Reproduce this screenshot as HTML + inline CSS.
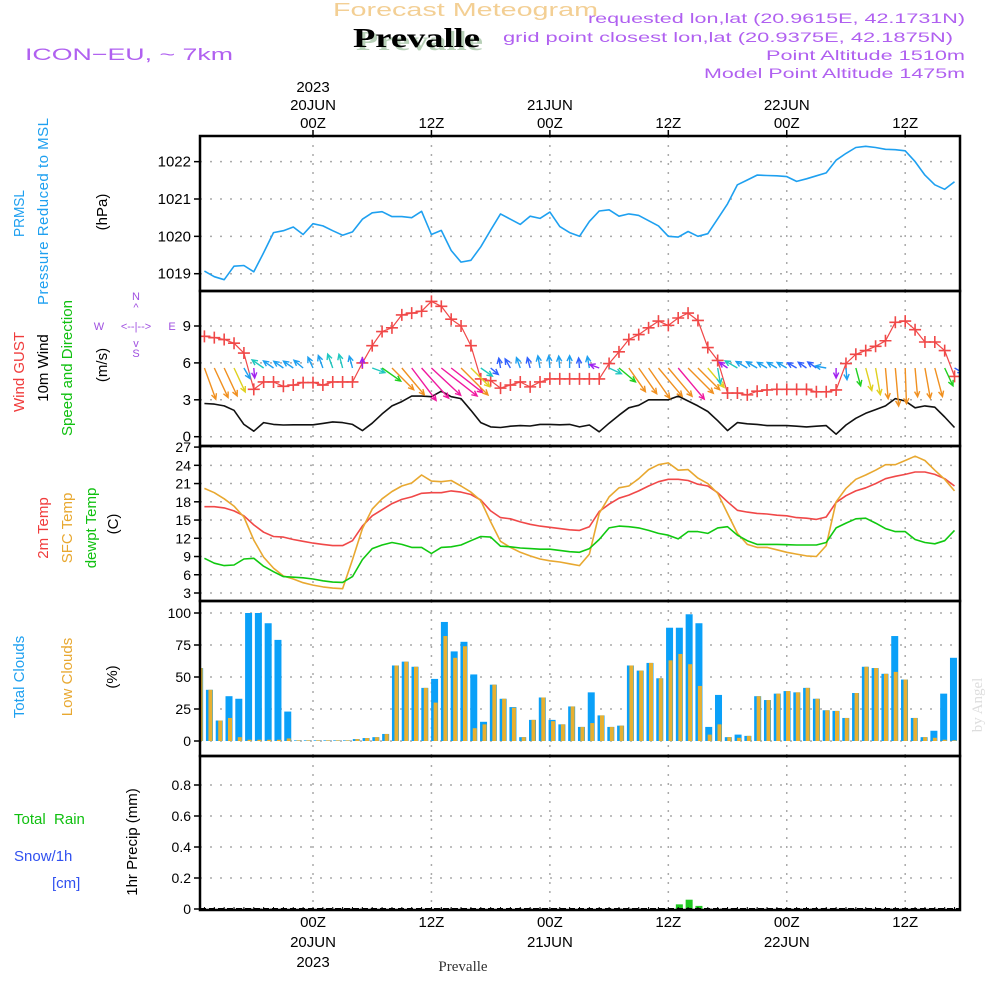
<!DOCTYPE html>
<html><head><meta charset="utf-8"><style>
html,body{margin:0;padding:0;background:#fff;}
svg{display:block;font-family:"Liberation Sans",sans-serif;}
</style></head><body>
<svg id="chart" width="1000" height="1000" viewBox="0 0 1000 1000" xmlns="http://www.w3.org/2000/svg">
<rect width="1000" height="1000" fill="#fff"/>
<defs>
<clipPath id="plotclip"><rect x="200" y="136" width="760" height="774"/></clipPath>
</defs>
<text x="333" y="16" font-size="18" fill="#f3cf94" textLength="265" lengthAdjust="spacingAndGlyphs">Forecast Meteogram</text>
<text x="356" y="50" font-size="27" font-weight="bold" fill="#b8d0b8" textLength="127" lengthAdjust="spacingAndGlyphs" font-family="Liberation Serif, serif">Prevalle</text>
<text x="353" y="47" font-size="27" font-weight="bold" fill="#000" textLength="127" lengthAdjust="spacingAndGlyphs" font-family="Liberation Serif, serif">Prevalle</text>
<text x="25" y="60" font-size="17" fill="#b060f0" textLength="208" lengthAdjust="spacingAndGlyphs">ICON−EU, ~ 7km</text>
<g font-size="14" fill="#b060f0">
<text x="588" y="23" textLength="377" lengthAdjust="spacingAndGlyphs">requested lon,lat (20.9615E, 42.1731N)</text>
<text x="503" y="42" textLength="450" lengthAdjust="spacingAndGlyphs">grid point closest lon,lat (20.9375E, 42.1875N)</text>
<text x="766" y="60" textLength="199" lengthAdjust="spacingAndGlyphs">Point Altitude 1510m</text>
<text x="704" y="78" textLength="261" lengthAdjust="spacingAndGlyphs">Model Point Altitude 1475m</text>
</g>
<g font-size="15">
<text transform="translate(24,237) rotate(-90)" fill="#1ea0f0" textLength="47" lengthAdjust="spacingAndGlyphs">PRMSL</text>
<text transform="translate(48,305) rotate(-90)" fill="#1ea0f0" textLength="187" lengthAdjust="spacing">Pressure Reduced to MSL</text>
<text transform="translate(107,212) rotate(-90)" text-anchor="middle" fill="#000">(hPa)</text>
<text transform="translate(24,372) rotate(-90)" text-anchor="middle" fill="#f03c3c">Wind GUST</text>
<text transform="translate(48,368) rotate(-90)" text-anchor="middle" fill="#000">10m Wind</text>
<text transform="translate(72,368) rotate(-90)" text-anchor="middle" fill="#10c010">Speed and Direction</text>
<text transform="translate(107,365) rotate(-90)" text-anchor="middle" fill="#000">(m/s)</text>
<text transform="translate(48,528) rotate(-90)" text-anchor="middle" fill="#f03c3c">2m Temp</text>
<text transform="translate(72,528) rotate(-90)" text-anchor="middle" fill="#e8a830">SFC Temp</text>
<text transform="translate(96,528) rotate(-90)" text-anchor="middle" fill="#10c010">dewpt Temp</text>
<text transform="translate(118,524) rotate(-90)" text-anchor="middle" fill="#000">(C)</text>
<text transform="translate(24,677) rotate(-90)" text-anchor="middle" fill="#1ea0f0">Total Clouds</text>
<text transform="translate(72,677) rotate(-90)" text-anchor="middle" fill="#e8a830">Low Clouds</text>
<text transform="translate(117,677) rotate(-90)" text-anchor="middle" fill="#000">(%)</text>
<text x="14" y="824" fill="#10c010" xml:space="preserve">Total  Rain</text>
<text x="14" y="861" fill="#3050f0">Snow/1h</text>
<text x="52" y="888" fill="#3050f0">[cm]</text>
<text transform="translate(137,842) rotate(-90)" text-anchor="middle" fill="#000">1hr Precip (mm)</text>
</g>
<g font-size="11" fill="#a050e0" text-anchor="middle">
<text x="136" y="300">N</text><text x="136" y="311">^</text>
<text x="99" y="330">W</text><text x="136" y="330">&lt;--|--&gt;</text><text x="172" y="330">E</text>
<text x="136" y="347">v</text><text x="136" y="357">S</text>
</g>
<text transform="translate(982,705) rotate(-90)" text-anchor="middle" font-size="15" fill="#ddd" font-family="Liberation Serif, serif">by Angel</text>
<text x="463" y="971" font-size="15" text-anchor="middle" font-family="Liberation Serif, serif" fill="#333">Prevalle</text>
<g id="grid"></g>
<g id="data" clip-path="url(#plotclip)"></g>
<g id="axes"></g>
</svg>
<script>
const hours = []; for (let h = -11; h <= 65; h++) hours.push(h);
const pressure = [1019.07,1018.92,1018.84,1019.2,1019.22,1019.05,1019.56,1020.1,1020.15,1020.25,1020.05,
1020.34,1020.28,1020.15,1020.03,1020.12,1020.46,1020.63,1020.66,1020.53,1020.53,1020.5,1020.67,
1020.05,1020.16,1019.62,1019.31,1019.36,1019.72,1020.17,1020.6,1020.46,1020.32,1020.54,1020.48,
1020.65,1020.26,1020.1,1020.0,1020.4,1020.68,1020.71,1020.54,1020.6,1020.56,1020.42,1020.28,
1020.0,1019.98,1020.13,1020.0,1020.07,1020.47,1020.87,1021.38,1021.51,1021.64,1021.63,1021.62,
1021.6,1021.47,1021.54,1021.62,1021.7,1022.04,1022.22,1022.38,1022.41,1022.38,1022.33,1022.32,
1022.29,1022.0,1021.64,1021.38,1021.26,1021.46];
const gust = [8.16,8.05,7.9,7.6,6.8,3.85,4.45,4.45,4.1,4.2,4.4,
4.4,4.2,4.45,4.45,4.45,6.0,7.4,8.55,8.85,9.9,10.05,10.2,
11.0,10.6,9.55,9.0,7.4,4.7,4.55,3.95,4.2,4.45,4.05,4.45,
4.7,4.7,4.7,4.7,4.7,4.7,5.95,6.9,7.9,8.3,8.85,9.4,
9.05,9.65,10.05,9.45,7.25,6.2,3.55,3.55,3.4,3.7,3.8,3.85,
3.85,3.85,3.85,3.65,3.65,3.8,5.95,6.7,7.0,7.35,7.8,9.3,
9.4,8.7,7.7,7.7,7.0,4.9];
const windSpeed = [2.7,2.65,2.5,2.15,1.0,0.45,1.15,1.0,0.95,0.97,0.97,
0.97,1.08,1.2,1.15,1.0,0.5,1.1,1.85,2.5,2.85,3.3,3.3,
3.25,3.7,3.25,3.1,2.15,1.15,0.8,0.75,0.85,0.9,0.87,1.0,
1.0,0.97,1.0,0.8,0.95,0.4,1.1,1.75,2.35,2.55,3.0,3.0,
3.0,3.3,2.9,2.5,2.05,1.3,0.5,1.15,1.05,1.0,0.9,0.9,
0.9,0.85,0.8,0.85,0.9,0.2,0.95,1.5,1.9,2.2,2.5,3.1,
2.9,2.35,2.5,2.4,1.6,0.75];
const windToward = [160,155,155,155,150,175,305,305,305,305,310,
335,340,340,345,345,0,110,125,135,140,143,138,
133,128,128,135,135,125,130,350,330,340,345,350,
355,355,0,355,350,290,115,130,145,145,145,140,
140,140,135,135,140,170,305,300,300,300,300,300,
300,300,305,305,280,180,175,165,165,170,175,175,
178,175,170,165,155,120];
const t2m = [17.2,17.2,17.0,16.5,15.7,14.2,13.0,12.3,12.2,11.8,11.5,
11.2,11.0,10.8,10.8,11.6,14.0,15.7,16.7,17.7,18.4,18.8,19.4,
19.5,19.5,19.8,19.6,19.2,18.3,16.5,15.4,15.2,14.7,14.3,14.0,
13.8,13.6,13.4,13.3,13.9,16.4,17.6,18.6,19.1,19.8,20.6,21.3,
21.7,21.7,21.5,20.9,20.6,19.5,18.0,16.6,16.3,16.1,16.0,15.8,
15.7,15.4,15.3,15.1,15.5,17.9,19.0,19.8,20.3,21.0,21.8,22.2,
22.5,22.9,22.9,22.5,21.8,20.6];
const sfcTemp = [20.2,19.5,18.5,17.3,15.5,11.7,8.9,7.1,5.8,5.3,4.7,
4.3,4.0,3.8,3.7,8.5,13.6,16.8,18.5,19.7,20.6,21.1,22.4,
21.4,21.3,21.5,20.6,19.6,18.2,14.7,11.5,10.5,9.7,9.1,8.6,
8.3,8.1,7.8,7.5,9.4,16.1,18.8,20.3,20.6,21.8,23.3,24.1,
24.4,23.2,23.3,21.9,21.0,19.4,16.1,12.8,11.0,10.5,10.5,10.1,
9.7,9.4,9.1,9.0,10.8,18.0,20.2,21.7,22.4,23.2,24.1,24.1,
24.8,25.5,24.8,23.2,21.7,19.8];
const dewpt = [8.7,7.9,7.5,7.6,8.6,8.7,7.4,6.5,5.7,5.6,5.5,
5.3,5.0,4.8,4.75,5.7,8.5,10.3,10.9,11.3,11.0,10.5,10.5,
9.5,10.5,10.6,10.9,11.6,12.3,12.2,10.7,10.6,10.4,10.3,10.2,
10.2,10.0,9.8,9.7,10.3,11.8,13.7,14.0,13.9,13.7,13.3,12.8,
12.5,11.9,13.1,13.1,12.8,13.7,13.9,12.5,11.6,11.0,11.0,11.0,
10.95,10.9,10.9,10.9,11.3,13.7,14.5,15.2,15.3,14.5,13.6,13.1,
13.1,11.8,11.3,11.1,11.6,13.3];
const cloudHours = []; for (let h = -12; h <= 65; h++) cloudHours.push(h);
const totalClouds = [57,40,16,35,33,100,100,92,79,23,0.5,0.5,
0.5,0.5,0.5,0.5,1.5,2.3,3,5.5,59,62,58,41.5,
48.5,93,70,77.5,52,15,44,33,26.5,3,16.5,34,
16.5,13,27,11,38,20,11,12,59,55,61,49,
88.5,88.5,99,92,11,36,3,5,4,35,32,37,
39,38,41.5,33,24,23.5,18,37.5,58,57,52.5,82,
48,18,3,8,37,65];
const lowClouds = [57,40,16,18,3,1,1,1,1,2,0.5,0.5,
0.5,0.5,0.5,0.5,1.5,2.3,3,5.5,59,62,58,41.5,
30,82,65,74,10,13,44,33,26,3,16.5,34,
15.5,13,27,11,14,20,11,12,59,55,61,49,
63,68,60,43,5,13,3,2.5,4,35,32,37,
39,38,41.5,33,24,23.5,18,37.5,58,57,52.5,54,
48,18,3,2.5,1,0.5];
const precipHours = [37,38,39];
const precipValues = [0.03,0.06,0.02];
const pressureTicks = [1019,1020,1021,1022];
const windTicks = [0,3,6,9];
const tempTicks = [3,6,9,12,15,18,21,24,27];
const cloudTicks = [0,25,50,75,100];
const precipTicks = [0,0.2,0.4,0.6,0.8];
const timeTicks = [0,12,24,36,48,60];
const timeLabels = ['00Z','12Z','00Z','12Z','00Z','12Z'];
const dateLabels = ['20JUN','','21JUN','','22JUN',''];

const X0 = 200, X1 = 960;
const x = h => 313 + h * 9.87;
const xBar = h => x(h) + 5 - (h + 11) * 0.08;
const yP = v => 273.7 - (v - 1019) * 37.35;
const yW = v => 436.7 - v * 12.3;
const yT = v => 593 - (v - 3) * 6.08;
const yC = v => 741 - v * 1.28;
const yR = v => 909 - v * 155;
const NS = 'http://www.w3.org/2000/svg';
const grid = document.getElementById('grid');
const dataG = document.getElementById('data');
const axes = document.getElementById('axes');
function mk(tag, attrs, parent) {
  const e = document.createElementNS(NS, tag);
  for (const k in attrs) e.setAttribute(k, attrs[k]);
  parent.appendChild(e);
  return e;
}
function txt(s, attrs, parent) { const e = mk('text', attrs, parent); e.textContent = s; return e; }

const panels = [
  {name:'pressure', top:136, bot:291, ticks:pressureTicks, y:yP, fmt:v=>String(v), fs:15},
  {name:'wind', top:291, bot:446, ticks:windTicks, y:yW, fmt:v=>String(v), fs:15},
  {name:'temp', top:446, bot:601, ticks:tempTicks, y:yT, fmt:v=>String(v), fs:14},
  {name:'cloud', top:601, bot:756, ticks:cloudTicks, y:yC, fmt:v=>String(v), fs:14},
  {name:'precip', top:756, bot:910, ticks:precipTicks, y:yR, fmt:v=>v===0?'0':v.toFixed(1), fs:14}
];
panels.forEach(p => {
  p.ticks.forEach(v => {
    const yy = p.y(v);
    const g = mk('line', {x1:X0, x2:X1, y1:yy, y2:yy, stroke:'#aaa', 'stroke-width':1.5, 'stroke-dasharray':'2,8'}, grid);
    
    
    const t = mk('line', {x1:X0-6, x2:X0, y1:yy, y2:yy, stroke:'#000', 'stroke-width':1.5}, axes);
    
    
    const l = txt(p.fmt(v), {x:X0-9, y:yy+5, 'font-size':p.fs, 'text-anchor':'end', fill:'#000'}, axes);
    
    
  });
  timeTicks.forEach(h => {
    const vl = mk('line', {x1:x(h), x2:x(h), y1:p.top, y2:p.bot, stroke:'#aaa', 'stroke-width':1.5, 'stroke-dasharray':'2,7'}, grid);
    
    
  });
  const fr = mk('rect', {x:X0, y:p.top, width:X1-X0, height:p.bot-p.top, fill:'none', stroke:'#000', 'stroke-width':2.5}, axes);
  
  
});
for (let h = -11; h <= 65; h++) {
  const bt = mk('line', {x1:x(h), x2:x(h), y1:907, y2:911, stroke:'#000', 'stroke-width':1}, axes);
  
  
}
timeTicks.forEach((h, i) => {
  const tt = mk('line', {x1:x(h), x2:x(h), y1:130, y2:136, stroke:'#000', 'stroke-width':1.5}, axes);
  
  
  const tl = txt(timeLabels[i], {x:x(h), y:128, 'font-size':15, 'text-anchor':'middle', fill:'#000'}, axes);
  
  
  const bl = txt(timeLabels[i], {x:x(h), y:927, 'font-size':15, 'text-anchor':'middle', fill:'#000'}, axes);
  
  
  if (dateLabels[i]) {
    const td = txt(dateLabels[i], {x:x(h), y:110, 'font-size':15, 'text-anchor':'middle', fill:'#000'}, axes);
    
    
    const bd = txt(dateLabels[i], {x:x(h), y:947, 'font-size':15, 'text-anchor':'middle', fill:'#000'}, axes);
    
    
  }
});
const ty = txt('2023', {x:x(0), y:92, 'font-size':15, 'text-anchor':'middle', fill:'#000'}, axes);


const by = txt('2023', {x:x(0), y:967, 'font-size':15, 'text-anchor':'middle', fill:'#000'}, axes);



function line(vals, yf, color, name, w) {
  const pts = hours.map((h, i) => x(h).toFixed(1) + ',' + yf(vals[i]).toFixed(1)).join(' ');
  const e = mk('polyline', {points:pts, fill:'none', stroke:color, 'stroke-width':w||1.6, 'stroke-linejoin':'round'}, dataG);
  
  
}
cloudHours.forEach((h, i) => {
  const cx = xBar(h);
  const b = mk('rect', {x:cx-3.5, y:yC(totalClouds[i]), width:7, height:741-yC(totalClouds[i]), fill:'#0aa0f8'}, dataG);
  
  
  const o = mk('rect', {x:cx-1, y:yC(lowClouds[i]), width:4, height:741-yC(lowClouds[i]), fill:'#e8b030'}, dataG);
  
  
});
precipHours.forEach((h, i) => {
  const cx = xBar(h);
  const b = mk('rect', {x:cx-3.5, y:yR(precipValues[i]), width:7, height:909-yR(precipValues[i]), fill:'#20c820'}, dataG);
  
  
});
const zl = mk('line', {x1:X0, x2:X1, y1:909, y2:909, stroke:'#000', 'stroke-width':2, 'stroke-dasharray':'6,3'}, dataG);



line(pressure, yP, '#1ea0f0', 'pressure-line', 1.6);
line(t2m, yT, '#f04848', 'temp-2m-line', 1.6);
line(sfcTemp, yT, '#e8a830', 'temp-sfc-line', 1.6);
line(dewpt, yT, '#10c810', 'dewpoint-line', 1.6);
line(windSpeed, yW, '#111', 'wind-speed-line', 1.6);
line(gust, yW, '#f04848', 'gust-line', 1.2);
hours.forEach((h, i) => {
  const cx = x(h), cy = yW(gust[i]);
  const m = mk('path', {d:`M${cx-6},${cy}H${cx+6}M${cx},${cy-6}V${cy+6}`, stroke:'#f04848', 'stroke-width':1.6}, dataG);
  
  
});
function arrowColor(s) {
  if (s < 0.6) return '#a020f0';
  if (s < 0.9) return '#3060ff';
  if (s < 1.1) return '#1ea0f0';
  if (s < 1.4) return '#20c8c0';
  if (s < 1.9) return '#20d020';
  if (s < 2.3) return '#e0d020';
  if (s < 3.2) return '#f09020';
  return '#f01aa0';
}
hours.forEach((h, i) => {
  const s = windSpeed[i];
  const a = windToward[i] * Math.PI / 180;
  const len = Math.max(10, s * 12.3);
  const x0 = x(h), y0 = 368;
  const x1 = x0 + Math.sin(a) * len, y1 = y0 - Math.cos(a) * len;
  const ha = 0.45, hl = 6;
  const back = Math.atan2(y0 - y1, x0 - x1);
  const p1x = x1 + Math.cos(back + ha) * hl, p1y = y1 + Math.sin(back + ha) * hl;
  const p2x = x1 + Math.cos(back - ha) * hl, p2y = y1 + Math.sin(back - ha) * hl;
  const e = mk('path', {d:`M${x0},${y0}L${x1},${y1}M${p1x},${p1y}L${x1},${y1}L${p2x},${p2y}`, stroke:arrowColor(s), 'stroke-width':1.4, fill:'none'}, dataG);
  
  
});
</script>
</body></html>
